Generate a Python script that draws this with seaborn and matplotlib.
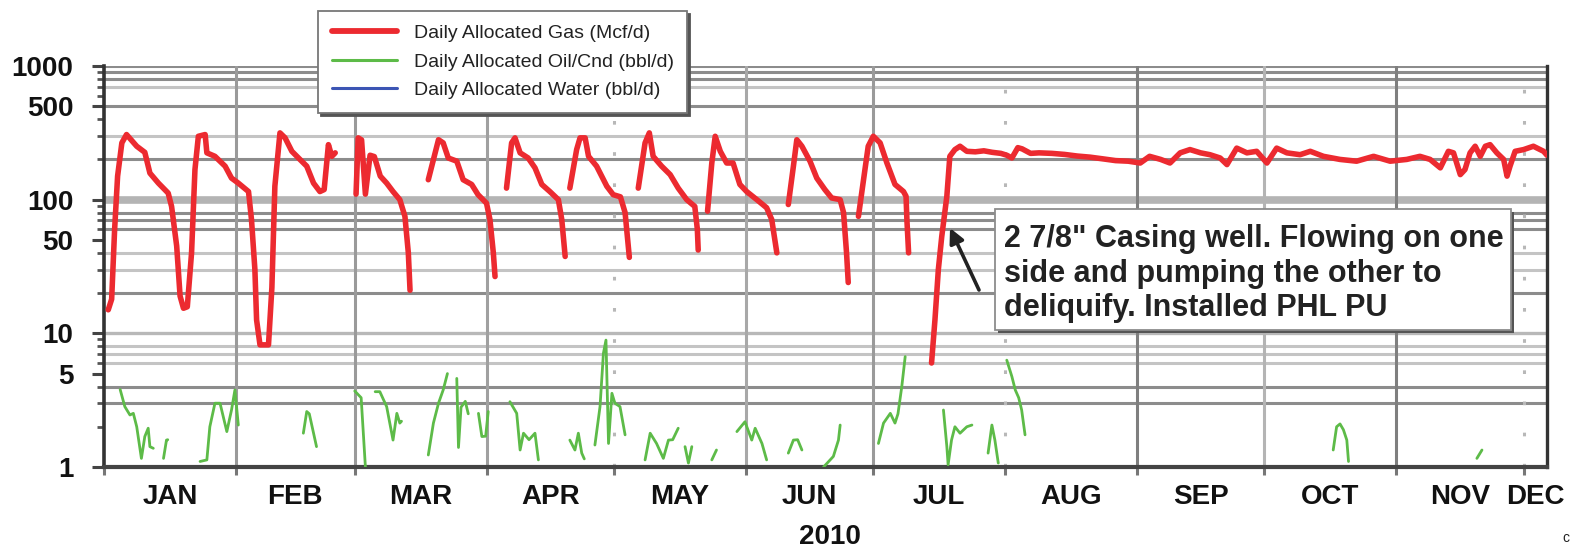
import numpy as np
import pandas as pd
import matplotlib
matplotlib.use("Agg")
import matplotlib.pyplot as plt
import matplotlib.dates as mdates
import seaborn as sns
from matplotlib.lines import Line2D
from matplotlib.patches import Rectangle
from matplotlib.ticker import FixedLocator, FixedFormatter, NullFormatter, LogLocator

# ---------------- data (day offset from 2010-01-01, value) ----------------
gas_seg1_day = [1.0, 1.8, 2.5, 3.2, 4.2, 5.3, 7.7, 9.6, 10.8, 12.8, 15.1, 15.9, 17.1, 17.9, 18.7, 19.6,
                20.6, 21.4, 22.2, 23.8, 24.2, 26.1, 28.5, 30.0, 31.6, 34.0, 34.7, 35.5, 35.9, 36.7, 38.7,
                39.5, 40.2, 41.4, 42.6, 44.2, 46.1, 47.7, 49.3, 50.8, 51.8, 52.8, 53.6, 54.4]
gas_seg1_val = [15, 18, 60, 150, 266, 307, 251, 226, 158, 133, 112, 89, 45, 19, 15.4, 15.8,
                40, 168, 298, 307, 224, 211, 178, 145, 133, 115, 71, 30, 12.6, 8.2, 8.2,
                22, 126, 316, 290, 230, 200, 178, 133, 115, 119, 258, 211, 224]
gas_seg2_day = [59.3, 59.8, 60.6, 61.5, 62.6, 63.6, 65.0, 66.5, 68.0, 69.6, 70.8, 71.6, 72.0]
gas_seg2_val = [110, 290, 280, 110, 215, 210, 150, 133, 115, 100, 75, 40, 21]
gas_seg3_day = [76.3, 78.7, 79.8, 81.0, 83.0, 84.5, 86.5, 88.0, 90.0, 90.8, 91.6, 92.0]
gas_seg3_val = [141, 281, 266, 205, 194, 141, 130, 109, 94, 71, 40, 26.6]
gas_seg4_day = [94.7, 95.9, 96.7, 97.9, 99.8, 101.4, 103.0, 104.9, 106.9, 107.7, 108.5]
gas_seg4_val = [122, 266, 290, 224, 205, 173, 130, 115, 100, 71, 37.6]
gas_seg5_day = [109.6, 111.2, 112.0, 113.2, 114.0, 115.9, 118.3, 119.8, 121.5, 122.6, 123.6]
gas_seg5_val = [122, 237, 290, 290, 211, 178, 126, 109, 105, 80, 37]
gas_seg6_day = [125.7, 127.3, 128.3, 129.2, 131.2, 133.2, 135.1, 137.1, 139.0, 139.6, 139.8]
gas_seg6_val = [122, 266, 316, 211, 178, 154, 122, 100, 89, 60, 42]
gas_seg7_day = [142.0, 143.0, 143.8, 145.0, 146.5, 148.0, 149.6, 151.2, 153.6, 155.9, 157.1, 158.3]
gas_seg7_val = [82, 188, 298, 230, 188, 188, 130, 115, 100, 87, 71, 40]
gas_seg8_day = [161.0, 162.2, 163.0, 164.2, 166.1, 167.7, 169.6, 171.2, 173.2, 174.0, 174.7, 175.1]
gas_seg8_val = [92, 178, 281, 251, 194, 145, 119, 103, 100, 80, 40, 24]
gas_seg9_day = [177.5, 178.7, 179.8, 181.0, 182.6, 184.2, 186.1, 188.1, 188.7, 188.9, 189.3]
gas_seg9_val = [75, 141, 251, 298, 266, 188, 130, 115, 106, 71, 40]
gas_seg10_day = [194.7, 195.5, 196.3, 197.1, 198.3, 199.0, 200.2, 201.4, 203.0, 205, 207, 209, 211,
                 212.4, 213.6, 215, 216, 218, 220, 223, 226, 229, 232, 235, 238, 241, 243.8, 246,
                 248.6, 250.8, 253.2, 255.5, 258, 260.2, 262.6, 264.2, 266.5, 268.9, 271.2, 273.6,
                 275.9, 278.3, 281.4, 283.8, 286.9, 290.8, 294.7, 298.7, 302.6, 306.5, 309.6, 312,
                 314.4, 316.3, 317.5, 319.1, 320.2, 321.4, 322.6, 323.8, 325, 326.1, 327.7, 329.3,
                 330.1, 330.8, 332, 334, 336.3, 338.7, 339.5]
gas_seg10_val = [6.0, 12.6, 30, 53, 106, 211, 237, 251, 230, 228, 232, 226, 222,
                 215, 205, 245, 240, 222, 224, 222, 218, 212, 208, 202, 196, 194, 188, 211,
                 200, 188, 224, 237, 224, 217, 205, 183, 243, 224, 230, 188,
                 243, 224, 217, 230, 211, 200, 194, 211, 194, 200, 211, 200,
                 173, 230, 224, 154, 168, 224, 251, 211, 251, 258, 224, 200,
                 150, 178, 230, 237, 251, 230, 215]

oil_segments_day = [
    [3.8, 4.9, 6.1, 6.9, 7.7, 8.8, 9.6, 10.4, 10.8, 11.6],
    [14.0, 14.7, 15.0],
    [22.6, 24.2, 24.9, 26.1, 27.3, 28.9, 30.0, 30.8, 31.6],
    [46.9, 47.7, 48.3, 50.0],
    [59.0, 60.5, 61.5],
    [63.8, 64.9, 66.5, 68.0, 68.9, 69.6, 70.0],
    [76.3, 77.5, 78.7, 79.8, 80.8],
    [83.0, 83.4, 84.0, 85.0, 85.7],
    [88.1, 88.9, 89.8, 90.4],
    [95.5, 97.1, 97.9, 98.7, 100.0, 101.4, 102.2],
    [109.6, 110.8, 111.6, 112.4, 113.0],
    [115.5, 116.7, 117.5, 118.1, 118.7, 119.5, 120.2, 121.4, 122.6],
    [127.3, 128.5, 130.0, 131.6, 132.8, 133.8, 135.1],
    [136.7, 137.5, 138.3],
    [143.0, 144.1],
    [148.9, 150.8, 152.4, 153.2, 154.8, 155.9],
    [161.0, 162.2, 163.2, 164.2],
    [169.3, 171.6, 172.8, 173.2],
    [182.2, 183.4, 185.0, 186.1, 186.8, 187.7, 188.5],
    [197.5, 198.3, 198.6, 199.4, 200.2, 201.4, 203.0, 204.2],
    [208.0, 208.9, 209.6, 210.4],
    [212.4, 213.6, 214.4, 215.2, 215.9, 216.7],
    [289.2, 290.0, 290.8, 291.6, 292.4, 292.8],
    [323.0, 324.2],
]
oil_segments_val = [
    [3.8, 2.83, 2.45, 2.52, 2.0, 1.16, 1.69, 1.95, 1.42, 1.38],
    [1.16, 1.59, 1.6],
    [1.1, 1.13, 2.0, 3.0, 3.0, 1.84, 2.67, 3.77, 2.06],
    [1.79, 2.6, 2.5, 1.42],
    [3.7, 3.3, 1.0],
    [3.66, 3.66, 2.83, 1.59, 2.52, 2.13, 2.2],
    [1.23, 2.13, 3.0, 3.77, 5.0],
    [4.6, 1.4, 2.8, 3.1, 2.5],
    [2.52, 1.69, 1.7, 2.6],
    [3.08, 2.52, 1.34, 1.79, 1.6, 1.79, 1.13],
    [1.59, 1.34, 1.79, 1.27, 1.15],
    [1.46, 2.83, 7.1, 8.9, 1.5, 3.56, 3.0, 2.83, 1.74],
    [1.13, 1.79, 1.5, 1.16, 1.59, 1.6, 1.95],
    [1.42, 1.07, 1.42],
    [1.13, 1.34],
    [1.84, 2.18, 1.59, 1.95, 1.5, 1.13],
    [1.27, 1.59, 1.6, 1.34],
    [1.0, 1.2, 1.59, 2.06],
    [1.5, 2.13, 2.52, 2.13, 2.5, 4.0, 6.7],
    [2.67, 1.42, 1.04, 1.59, 2.0, 1.79, 2.0, 2.06],
    [1.27, 2.06, 1.59, 1.07],
    [6.3, 4.75, 3.77, 3.3, 2.67, 1.74],
    [1.34, 2.0, 2.1, 1.9, 1.59, 1.1],
    [1.16, 1.34],
]
water_day = []
water_val = []

month_labels = ["JAN", "FEB", "MAR", "APR", "MAY", "JUN", "JUL", "AUG", "SEP", "OCT", "NOV", "DEC"]
y_tick_values = [1, 5, 10, 50, 100, 500, 1000]
y_tick_labels = ["1", "5", "10", "50", "100", "500", "1000"]
series_labels = ["Daily Allocated Gas (Mcf/d)", "Daily Allocated Oil/Cnd (bbl/d)",
                 "Daily Allocated Water (bbl/d)"]
year_label = "2010"
note_text = '2 7/8" Casing well. Flowing on one\nside and pumping the other to\ndeliquify. Installed PHL PU'

# ---------------- build tables ----------------
start = pd.Timestamp("2010-01-01")


def to_dates(days):
    return start + pd.to_timedelta(np.asarray(days, dtype=float), unit="D")


gas_days = [gas_seg1_day, gas_seg2_day, gas_seg3_day, gas_seg4_day, gas_seg5_day,
            gas_seg6_day, gas_seg7_day, gas_seg8_day, gas_seg9_day, gas_seg10_day]
gas_vals = [gas_seg1_val, gas_seg2_val, gas_seg3_val, gas_seg4_val, gas_seg5_val,
            gas_seg6_val, gas_seg7_val, gas_seg8_val, gas_seg9_val, gas_seg10_val]
gas_df = pd.concat([pd.DataFrame({"date": to_dates(d), "value": v, "seg": i})
                    for i, (d, v) in enumerate(zip(gas_days, gas_vals))], ignore_index=True)
oil_df = pd.concat([pd.DataFrame({"date": to_dates(d), "value": v, "seg": i})
                    for i, (d, v) in enumerate(zip(oil_segments_day, oil_segments_val))],
                   ignore_index=True)

# ---------------- style ----------------
sns.set_style("white")
plt.rcParams["font.family"] = ["Liberation Sans", "DejaVu Sans"]

RED = "#ec2a30"
GREEN = "#5dbb48"
BLUE = "#3c55b4"

W, H = 1574, 550
fig = plt.figure(figsize=(W / 100, H / 100), dpi=100)
ax_l, ax_r, ax_t, ax_b = 104, 1547, 66, 467
ax = fig.add_axes([ax_l / W, (H - ax_b) / H, (ax_r - ax_l) / W, (ax_b - ax_t) / H])
ax.set_yscale("log")
ax.set_ylim(1, 1000)
x0 = start
x1 = start + pd.Timedelta(days=339.5)
ax.set_xlim(x0, x1)

# horizontal grid (styling)
hgrid = [(3, "#8c8c8c", 2.2), (4, "#8c8c8c", 2.2), (6, "#c4c4c4", 2.2), (7, "#c4c4c4", 2.2),
         (8, "#c4c4c4", 2.2), (10, "#b8b8b8", 2.4),
         (20, "#8c8c8c", 2.2), (30, "#c4c4c4", 2.2), (40, "#c4c4c4", 2.2), (60, "#8c8c8c", 2.2),
         (70, "#8c8c8c", 2.2), (80, "#8c8c8c", 2.2), (100, "#b4b4b4", 5.5),
         (200, "#8c8c8c", 2.2), (300, "#c4c4c4", 2.2), (500, "#8c8c8c", 2.2), (700, "#c4c4c4", 2.2),
         (800, "#8c8c8c", 2.2), (900, "#8c8c8c", 2.2), (1000, "#8c8c8c", 2.2)]
for v, c, lw in hgrid:
    ax.axhline(v, color=c, lw=lw, zorder=0.5)

# vertical grid at month starts
month_starts = pd.date_range("2010-01-01", "2010-12-01", freq="MS")
vstyle = [None,
          ("#9a9a9a", "-"), ("#9a9a9a", "-"), ("#a0a0a0", "-"), ("#b8b8b8", (0, (1.2, 9))),
          ("#a8a8a8", "-"), ("#9a9a9a", "-"), ("#b8b8b8", (0, (1.2, 9))), ("#7f7f7f", "-"),
          ("#b4b4b4", "-"), ("#7f7f7f", "-"), ("#b8b8b8", (0, (1.2, 9)))]
for ms, st in zip(month_starts, vstyle):
    if st is None:
        continue
    ax.axvline(ms, color=st[0], ls=st[1], lw=2.2, zorder=0.6)

# data
sns.lineplot(data=gas_df, x="date", y="value", units="seg", estimator=None, color=RED,
             lw=4.0, ax=ax, legend=False, zorder=3, sort=False)
sns.lineplot(data=oil_df, x="date", y="value", units="seg", estimator=None, color=GREEN,
             lw=2.0, ax=ax, legend=False, zorder=3, sort=False)
ax.plot(to_dates(water_day), water_val, color=BLUE, lw=2.0)

ax.set_ylim(1, 1000)
ax.set_xlim(x0, x1)

# y axis ticks
ax.yaxis.set_major_locator(FixedLocator(y_tick_values))
ax.yaxis.set_major_formatter(FixedFormatter(y_tick_labels))
ax.yaxis.set_minor_locator(LogLocator(base=10, subs=np.arange(2, 10)))
ax.yaxis.set_minor_formatter(NullFormatter())
ax.tick_params(axis="y", which="major", direction="out", length=9, width=2.2, color="#444444",
               pad=13, labelsize=20, labelcolor="#111111", left=True)
ax.tick_params(axis="y", which="minor", direction="out", length=5, width=2.0, color="#555555",
               left=True)
for lbl in ax.get_yticklabels():
    lbl.set_fontweight("bold")

# x axis ticks
xnum0, xnum1 = mdates.date2num(x0), mdates.date2num(x1)
starts_num = [mdates.date2num(m) for m in month_starts]
ends_num = starts_num[1:] + [xnum1]
mids = [(a + min(b, xnum1)) / 2 for a, b in zip(starts_num, ends_num)]
ax.xaxis.set_major_locator(FixedLocator(starts_num))
ax.xaxis.set_major_formatter(NullFormatter())
ax.xaxis.set_minor_locator(FixedLocator(mids))
ax.xaxis.set_minor_formatter(FixedFormatter(month_labels))
ax.tick_params(axis="x", which="major", direction="out", length=6, width=2.2, color="#777777",
               bottom=True)
ax.tick_params(axis="x", which="minor", length=0, pad=12, labelsize=20, labelcolor="#111111",
               bottom=True)
for lbl in ax.xaxis.get_minorticklabels():
    lbl.set_fontweight("bold")
ax.set_xlabel(year_label, fontsize=20, fontweight="bold", color="#111111")
ax.xaxis.set_label_coords((830 - ax_l) / (ax_r - ax_l), -(524 - ax_b) / (ax_b - ax_t))
ax.set_ylabel("")

# spines
ax.spines["top"].set_visible(False)
for side, lw, col in [("left", 2.6, "#333333"), ("bottom", 3.0, "#444444"), ("right", 2.4, "#333333")]:
    ax.spines[side].set_visible(True)
    ax.spines[side].set_linewidth(lw)
    ax.spines[side].set_color(col)

# legend
handles = [Line2D([], [], color=RED, lw=4.2), Line2D([], [], color=GREEN, lw=2.2),
           Line2D([], [], color=BLUE, lw=2.2)]
leg = fig.legend(handles, series_labels, loc="upper left",
                 bbox_to_anchor=(318 / W, 1 - 11 / H), bbox_transform=fig.transFigure,
                 fontsize=14, frameon=True, fancybox=False, borderaxespad=0,
                 handlelength=3.35, handletextpad=0.88, labelspacing=0.56, borderpad=0.7,
                 shadow={"color": "#555555", "alpha": 1.0})
leg.get_frame().set_edgecolor("#777777")
leg.get_frame().set_linewidth(1.3)
leg.get_frame().set_facecolor("white")
for t in leg.get_texts():
    t.set_color("#222222")

# annotation box
bx0, bx1, by0, by1 = 995, 1511, 209, 330
fig.patches.append(Rectangle(((bx0 + 3) / W, 1 - (by1 + 3) / H), (bx1 - bx0) / W, (by1 - by0) / H,
                             transform=fig.transFigure, facecolor="#555555", edgecolor="none",
                             zorder=5))
fig.patches.append(Rectangle((bx0 / W, 1 - by1 / H), (bx1 - bx0) / W, (by1 - by0) / H,
                             transform=fig.transFigure, facecolor="white", edgecolor="#8c8c8c",
                             lw=1.3, zorder=6))
fig.text(1004 / W, 1 - 224 / H, note_text, ha="left", va="top", fontsize=22, fontweight="bold",
         color="#222222", linespacing=1.2, zorder=7)
ax.annotate("", xy=(950, H - 228), xycoords="figure pixels",
            xytext=(979, H - 290), textcoords="figure pixels",
            arrowprops=dict(arrowstyle="-|>", color="#222222", lw=2.6, mutation_scale=22,
                            shrinkA=0, shrinkB=0), zorder=8)

fig.text(1562 / W, 5 / H, "c", fontsize=10, color="#222222", ha="left", va="bottom")

fig.savefig("out.png", dpi=100)
